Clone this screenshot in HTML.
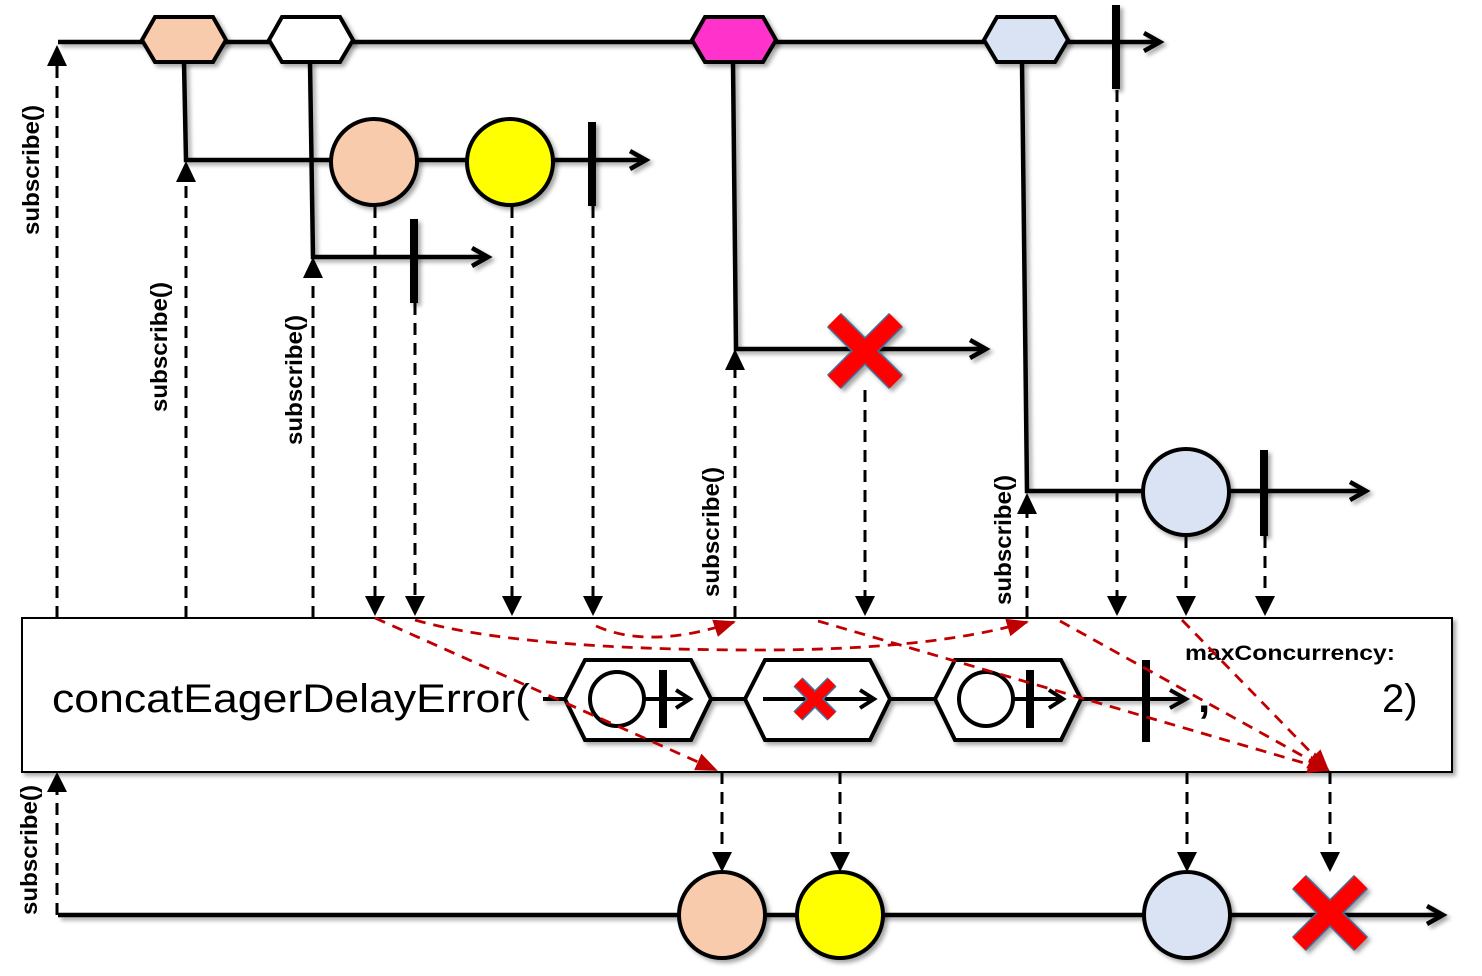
<!DOCTYPE html>
<html><head><meta charset="utf-8"><style>
html,body{margin:0;padding:0;background:#fff;}
svg{display:block;}
text{font-family:"Liberation Sans",sans-serif;}
</style></head><body>
<svg width="1482" height="976" viewBox="0 0 1482 976" xmlns="http://www.w3.org/2000/svg">
<defs>
<marker id="rh" markerWidth="22" markerHeight="22" refX="20" refY="11" orient="auto" markerUnits="userSpaceOnUse"><path d="M0,2 L22,11 L0,20 z" fill="#c00000"/></marker>
<filter id="sh" x="-20%" y="-20%" width="140%" height="140%"><feDropShadow dx="3" dy="3" stdDeviation="2" flood-color="#000" flood-opacity="0.35"/></filter>
</defs>

<g stroke="#000" stroke-width="3" stroke-dasharray="12,8" fill="none">
<line x1="57" y1="618" x2="57" y2="66"/>
<line x1="186" y1="618" x2="186" y2="182"/>
<line x1="313" y1="618" x2="313" y2="278"/>
<line x1="735" y1="618" x2="735" y2="370"/>
<line x1="1027" y1="618" x2="1027" y2="514"/>
<line x1="375" y1="206" x2="375" y2="596"/>
<line x1="415" y1="303" x2="415" y2="596"/>
<line x1="512" y1="206" x2="512" y2="596"/>
<line x1="593" y1="206" x2="593" y2="596"/>
<line x1="865" y1="390" x2="865" y2="596"/>
<line x1="1117" y1="90" x2="1117" y2="596"/>
<line x1="1186" y1="536" x2="1186" y2="596"/>
<line x1="1265" y1="536" x2="1265" y2="596"/>
<line x1="57" y1="915" x2="57" y2="792"/>
<line x1="722" y1="772" x2="722" y2="852"/>
<line x1="840" y1="772" x2="840" y2="852"/>
<line x1="1187" y1="772" x2="1187" y2="852"/>
<line x1="1330" y1="772" x2="1330" y2="852"/>
</g>
<g fill="#000">
<path d="M47,66 L67,66 L57,45 z"/><path d="M176,182 L196,182 L186,161 z"/><path d="M303,278 L323,278 L313,257 z"/>
<path d="M725,370 L745,370 L735,349 z"/><path d="M1017,514 L1037,514 L1027,493 z"/>
<path d="M47,792 L67,792 L57,772 z"/>
<path d="M365,596 L385,596 L375,616 z"/><path d="M405,596 L425,596 L415,616 z"/><path d="M502,596 L522,596 L512,616 z"/>
<path d="M583,596 L603,596 L593,616 z"/><path d="M855,596 L875,596 L865,616 z"/><path d="M1107,596 L1127,596 L1117,616 z"/>
<path d="M1176,596 L1196,596 L1186,616 z"/><path d="M1255,596 L1275,596 L1265,616 z"/>
<path d="M712,852 L732,852 L722,872 z"/><path d="M830,852 L850,852 L840,872 z"/><path d="M1177,852 L1197,852 L1187,872 z"/><path d="M1320,852 L1340,852 L1330,872 z"/>
</g>

<g font-weight="bold" font-size="23" fill="#000">
<text transform="translate(39,170) rotate(-90)" text-anchor="middle" textLength="130" lengthAdjust="spacingAndGlyphs">subscribe()</text>
<text transform="translate(167,347) rotate(-90)" text-anchor="middle" textLength="130" lengthAdjust="spacingAndGlyphs">subscribe()</text>
<text transform="translate(302,380) rotate(-90)" text-anchor="middle" textLength="130" lengthAdjust="spacingAndGlyphs">subscribe()</text>
<text transform="translate(719,532) rotate(-90)" text-anchor="middle" textLength="130" lengthAdjust="spacingAndGlyphs">subscribe()</text>
<text transform="translate(1011,540) rotate(-90)" text-anchor="middle" textLength="130" lengthAdjust="spacingAndGlyphs">subscribe()</text>
<text transform="translate(37,850) rotate(-90)" text-anchor="middle" textLength="130" lengthAdjust="spacingAndGlyphs">subscribe()</text>
</g>

<g stroke="#000" stroke-width="4.5" fill="none" filter="url(#sh)">
<line x1="58" y1="42" x2="1158" y2="42"/>
<polyline points="1144,33 1160,42 1144,51"/>
<polyline points="184,62 186,160 646,160"/>
<polyline points="630,151 646,160 630,169"/>
<polyline points="310,62 313,257 488,257"/>
<polyline points="472,248 488,257 472,266"/>
<polyline points="733,62 736,349 986,349"/>
<polyline points="970,340 986,349 970,358"/>
<polyline points="1022,62 1027,491 1366,491"/>
<polyline points="1350,482 1366,491 1350,500"/>
<line x1="58" y1="915" x2="1443" y2="915"/>
<polyline points="1427,906 1443,915 1427,924"/>
</g>
<g stroke="#000" stroke-width="4" filter="url(#sh)">
<polygon points="142,40 155,17 213,17 226,40 213,62 155,62" fill="#f8cbad"/>
<polygon points="269,40 282,17 340,17 353,40 340,62 282,62" fill="#fff"/>
<polygon points="692,40 705,17 763,17 776,40 763,62 705,62" fill="#ff33cc"/>
<polygon points="984,40 997,17 1055,17 1068,40 1055,62 997,62" fill="#dae3f3"/>
<circle cx="374" cy="162" r="43" fill="#f8cbad"/>
<circle cx="510" cy="162" r="43" fill="#ffff00"/>
<circle cx="1186" cy="492" r="43" fill="#dae3f3"/>
<circle cx="722" cy="915" r="43" fill="#f8cbad"/>
<circle cx="840" cy="915" r="43" fill="#ffff00"/>
<circle cx="1187" cy="915" r="43" fill="#dae3f3"/>
</g>
<g fill="#000" filter="url(#sh)">
<rect x="1112" y="5" width="8" height="84"/>
<rect x="588" y="122" width="8" height="84"/>
<rect x="410" y="219" width="8" height="84"/>
<rect x="1260" y="450" width="8" height="86"/>
</g>
<g filter="url(#sh)">
<g stroke="#41719c" stroke-width="20"><line x1="834" y1="320" x2="896" y2="382"/><line x1="896" y1="320" x2="834" y2="382"/></g>
<g stroke="#ff0000" stroke-width="17"><line x1="834" y1="320" x2="896" y2="382"/><line x1="896" y1="320" x2="834" y2="382"/></g>
<g stroke="#41719c" stroke-width="20"><line x1="1299" y1="882" x2="1361" y2="944"/><line x1="1361" y1="882" x2="1299" y2="944"/></g>
<g stroke="#ff0000" stroke-width="17"><line x1="1299" y1="882" x2="1361" y2="944"/><line x1="1361" y1="882" x2="1299" y2="944"/></g>
</g>

<rect x="22" y="618" width="1430" height="154" fill="#fff" stroke="#000" stroke-width="2" filter="url(#sh)"/>
<text x="52" y="712" font-size="40" textLength="478" lengthAdjust="spacingAndGlyphs">concatEagerDelayError(</text>
<text x="1185" y="660" font-size="21" font-weight="bold" textLength="210" lengthAdjust="spacingAndGlyphs">maxConcurrency:</text>
<text x="1198" y="712" font-size="44" font-weight="bold">,</text>
<text x="1382" y="712" font-size="40">2)</text>

<g stroke="#000" stroke-width="4" fill="none" filter="url(#sh)">
<line x1="543" y1="699" x2="1186" y2="699"/>
<polyline points="1170,690 1186,699 1170,708"/>
<polygon points="565,699 585,660 691,660 711,699 691,740 585,740" fill="#fff"/>
<polygon points="745,699 765,660 870,660 890,699 870,740 765,740" fill="#fff"/>
<polygon points="935,699 955,660 1061,660 1081,699 1061,740 955,740" fill="#fff"/>
<circle cx="617" cy="699" r="27" fill="#fff"/>
<line x1="644" y1="699" x2="690" y2="699"/><polyline points="676,690 690,699 676,708"/>
<line x1="763" y1="699" x2="874" y2="699"/><polyline points="860,690 874,699 860,708"/>
<circle cx="986" cy="699" r="27" fill="#fff"/>
<line x1="1013" y1="699" x2="1063" y2="699"/><polyline points="1049,690 1063,699 1049,708"/>
</g>
<g fill="#000"><rect x="659" y="670" width="8" height="58"/><rect x="1026" y="670" width="8" height="58"/><rect x="1142" y="660" width="8" height="82"/></g>
<g>
<g stroke="#41719c" stroke-width="13"><line x1="798" y1="682" x2="832" y2="716"/><line x1="832" y1="682" x2="798" y2="716"/></g>
<g stroke="#ff0000" stroke-width="10"><line x1="798" y1="682" x2="832" y2="716"/><line x1="832" y1="682" x2="798" y2="716"/></g>
</g>

<g stroke="#c00000" stroke-width="2.8" stroke-dasharray="11,8" fill="none">
<path d="M375,618 L716,770" marker-end="url(#rh)"/>
<path d="M415,620 Q520,650 760,650 Q930,650 1027,622" marker-end="url(#rh)"/>
<path d="M596,626 Q650,650 734,622" marker-end="url(#rh)"/>
<path d="M818,621 L1328,770" marker-end="url(#rh)"/>
<path d="M1060,621 L1328,770" marker-end="url(#rh)"/>
<path d="M1182,620 L1328,770" marker-end="url(#rh)"/>
</g>
</svg>
</body></html>
